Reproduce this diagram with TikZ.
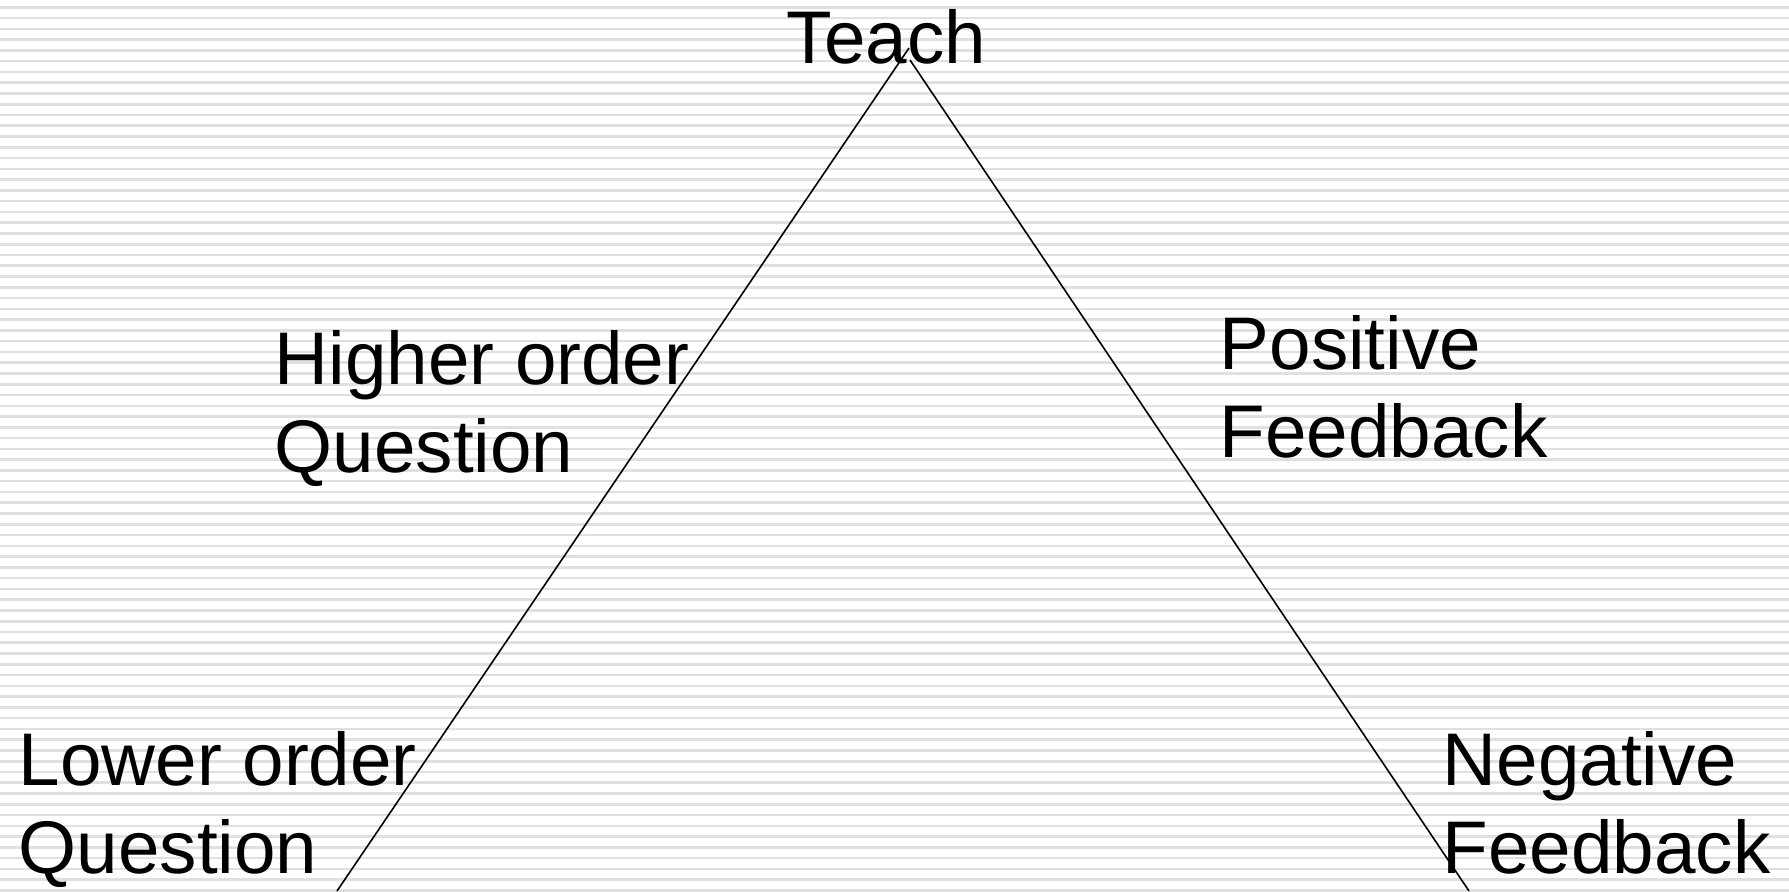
\documentclass[tikz,border=0pt]{standalone}
\usepackage{fontspec}
\setmainfont{Liberation Sans}
\tikzset{every picture/.style={line width=0.8pt}}
\tikzset{
  label/.style={anchor=base west, align=left, inner sep=0pt,
    font=\fontsize{37.3pt}{44pt}\selectfont},
  stripe/.style={draw=black!12, line width=1.3pt}
}
\begin{document}
\begin{tikzpicture}[x=0.5pt,y=-0.5pt]
	\useasboundingbox (0,0) rectangle (1789,891);
	\fill[white] (0,0) rectangle (1789,891);
	\foreach \k in {0,...,82}
	  \draw[stripe] (0,7.3+\k*10.77) -- (1789,7.3+\k*10.77);
	%
	\coordinate (apexL) at (909,48);
	\coordinate (apexR) at (910,60);
	\coordinate (baseL) at (337,891);
	\coordinate (baseR) at (1469,891);
	\draw (baseL) -- (apexL);
	\draw (apexR) -- (baseR);
	%
	\node[label] (teach) at (786,63) {Teach};
	\node[label] (higher) at (274,472) {Higher order\\Question};
	\node[label] (positive) at (1219,457) {Positive\\Feedback};
	\node[label] (lower) at (18,873) {Lower order\\Question};
	\node[label] (negative) at (1442,873) {Negative\\Feedback};
\end{tikzpicture}
\end{document}
